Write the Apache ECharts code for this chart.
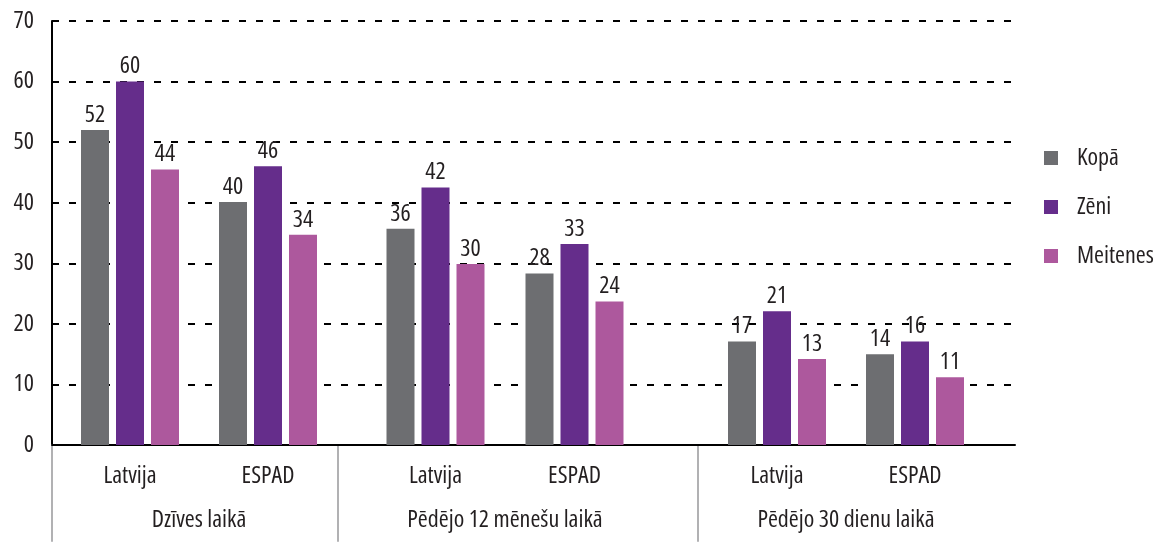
<!DOCTYPE html>
<html>
<head>
<meta charset="utf-8">
<script src="https://cdn.jsdelivr.net/npm/echarts@6/dist/echarts.min.js"></script>
<style>
  html, body { margin: 0; padding: 0; background: #fff; }
  #chart { width: 1160px; height: 545px; }
</style>
</head>
<body>
<div id="chart"></div>
<script>
  // sub categories and groups
  const categories = ['Latvija', 'ESPAD'];
  const groups = ['Dzīves laikā', 'Pēdējo 12 mēnešu laikā', 'Pēdējo 30 dienu laikā'];
  const seriesNames = ['Kopā', 'Zēni', 'Meitenes'];

  // bar heights as drawn (6 values: Latvija/ESPAD for each group)
  const kopa = [52.0, 40.1, 35.7, 28.3, 17.1, 15.0];
  const zeni = [60.0, 46.0, 42.5, 33.2, 22.1, 17.1];
  const meitenes = [45.5, 34.7, 29.9, 23.7, 14.2, 11.2];

  // printed labels
  const kopaLabels = [52, 40, 36, 28, 17, 14];
  const zeniLabels = [60, 46, 42, 33, 21, 16];
  const meitenesLabels = [44, 34, 30, 24, 13, 11];

  const yTicks = [0, 10, 20, 30, 40, 50, 60, 70];

  const colors = ['#6d6e71', '#652d8b', '#ad589d'];
  // condensed face (font-stretch passed through the weight slot of the canvas font string)
  const font = "'Open Sans', sans-serif";
  const stretch = 'normal semi-condensed';
  const textColor = '#231f20';

  // layout of the three group panels (left edge, width) and separators
  const panels = [[61, 276], [366, 278], [708, 276]];
  const separators = [52, 338, 698];

  var chartDom = document.getElementById('chart');
  var myChart = echarts.init(chartDom);

  const txt = (extra) => Object.assign({color: textColor, fontSize: 24, fontFamily: font, fontWeight: stretch}, extra);

  let grid = [{left: 52, top: 21, width: 963, height: 424}];
  let xAxis = [{
    gridIndex: 0, type: 'category', data: [''],
    axisLine: {lineStyle: {color: '#000', width: 2}},
    axisTick: {show: false}, axisLabel: {show: false}
  }];
  let yAxis = [{
    gridIndex: 0, type: 'value', min: yTicks[0], max: yTicks[yTicks.length - 1], interval: 10,
    axisLine: {show: true, lineStyle: {color: '#000', width: 2}},
    axisTick: {show: false},
    axisLabel: txt({margin: 18}),
    splitLine: {lineStyle: {color: '#000', width: 2, type: [7, 10]}}
  }];
  let series = [];

  const values = [kopa, zeni, meitenes];
  const labels = [kopaLabels, zeniLabels, meitenesLabels];

  panels.forEach((p, g) => {
    const gi = grid.length;
    grid.push({left: p[0], top: 21, width: p[1], height: 424});
    xAxis.push({
      gridIndex: gi, type: 'category', data: categories,
      axisLine: {show: false}, axisTick: {show: false},
      axisLabel: txt({margin: 19})
    });
    xAxis.push({
      gridIndex: gi, type: 'category', data: [groups[g]], position: 'bottom', offset: 56,
      axisLine: {show: false}, axisTick: {show: false},
      axisLabel: txt({margin: 7})
    });
    yAxis.push({gridIndex: gi, type: 'value', min: 0, max: 70, show: false});
    const xi = xAxis.length - 2;
    const yi = yAxis.length - 1;
    seriesNames.forEach((name, s) => {
      series.push({
        name: name, type: 'bar', xAxisIndex: xi, yAxisIndex: yi,
        barWidth: 28, barGap: '25%',
        itemStyle: {color: colors[s]},
        label: Object.assign({
          show: true, position: 'top', distance: 3,
          formatter: (d) => labels[s][g * 2 + d.dataIndex]
        }, txt({})),
        data: values[s].slice(g * 2, g * 2 + 2)
      });
    });
  });

  // separator lines under the axis
  separators.forEach((x) => {
    const gi = grid.length;
    grid.push({left: x, top: 445, width: 1, height: 96});
    xAxis.push({gridIndex: gi, type: 'value', show: false});
    yAxis.push({
      gridIndex: gi, type: 'value', show: true,
      axisLine: {show: true, lineStyle: {color: '#b1b1b3', width: 2}},
      axisTick: {show: false}, axisLabel: {show: false}, splitLine: {show: false}
    });
  });

  let option = {
    animation: false,
    color: colors,
    legend: {
      data: seriesNames,
      orient: 'vertical',
      left: 1039, top: 141,
      icon: 'rect', itemWidth: 14, itemHeight: 14, itemGap: 25,
      textStyle: txt({padding: [0, 0, 0, 14]})
    },
    grid: grid,
    xAxis: xAxis,
    yAxis: yAxis,
    series: series
  };

  myChart.setOption(option);
</script>
</body>
</html>
